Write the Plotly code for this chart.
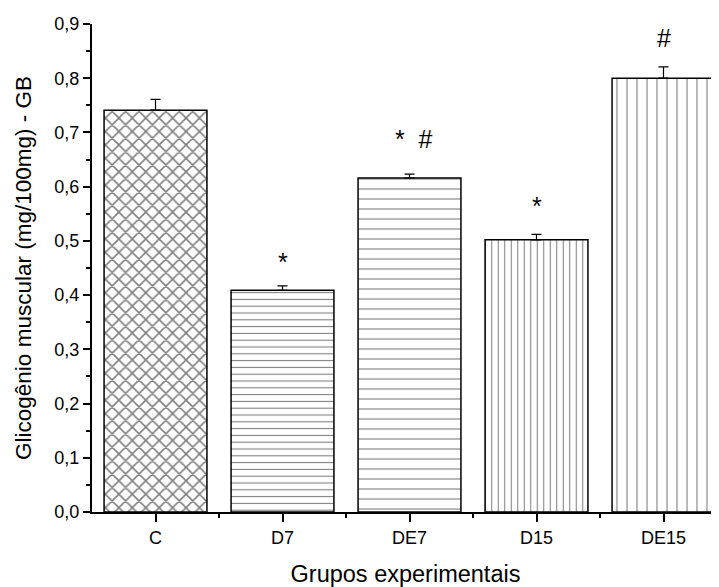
import plotly.graph_objects as go

categories = ["C", "D7", "DE7", "D15", "DE15"]
values = [0.741, 0.409, 0.616, 0.502, 0.800]
errors = [0.020, 0.008, 0.007, 0.010, 0.021]
marks = ["", "*", "*&nbsp;&nbsp;#", "*", "#"]
mark_levels = [None, 0.461, 0.688, 0.564, 0.874]
mark_shift = [0, 0, 4.5, 0, 0]
y_ticks = [0.0, 0.1, 0.2, 0.3, 0.4, 0.5, 0.6, 0.7, 0.8, 0.9]

shapes = ["x", "-", "-", "|", "|"]
sizes = [9.5, 6.8, 10, 6.5, 10]
solid = [0.3, 0.16, 0.11, 0.16, 0.11]

xpos = list(range(len(categories)))

fig = go.Figure()
for i, cat in enumerate(categories):
    fig.add_trace(go.Bar(
        x=[xpos[i]], y=[values[i]], width=0.81,
        marker=dict(color="white", line=dict(color="black", width=1.5),
                    pattern=dict(shape=shapes[i], size=sizes[i], solidity=solid[i],
                                 fgcolor="black", bgcolor="white", fillmode="overlay")),
        error_y=dict(type="data", array=[errors[i]], arrayminus=[0], symmetric=False,
                     color="black", thickness=1.2, width=5),
        showlegend=False, name=cat,
    ))

for i, m in enumerate(marks):
    if m:
        fig.add_annotation(x=xpos[i], y=mark_levels[i], text=m, showarrow=False,
                           xshift=mark_shift[i],
                           font=dict(size=25, color="black", family="Liberation Sans, Arial"))

fig.update_layout(
    width=711, height=579,
    margin=dict(l=84, r=0, t=16, b=75),
    paper_bgcolor="white", plot_bgcolor="white",
    separators=",.",
    font=dict(family="Liberation Sans, Arial", color="black"),
    bargap=0.19,
)
fig.update_xaxes(
    range=[-0.5, 4.437], tickmode="array", tickvals=xpos, ticktext=categories,
    showline=True, linecolor="black", linewidth=2, showgrid=False, zeroline=False,
    ticks="outside", ticklen=8, tickwidth=1.5, tickcolor="black",
    tickfont=dict(size=18),
    minor=dict(tickmode="array", tickvals=[x + 0.5 for x in xpos], ticks="outside", ticklen=4,
               tickwidth=1.5, tickcolor="black", showgrid=False),
    title=dict(text="Grupos experimentais", font=dict(size=23.5), standoff=22),
)
fig.update_yaxes(
    range=[0, 0.9], tickmode="array", tickvals=y_ticks, tickformat=".1f",
    showline=True, linecolor="black", linewidth=2, showgrid=False, zeroline=False,
    ticks="outside", ticklen=7, tickwidth=1.5, tickcolor="black",
    tickfont=dict(size=18),
    minor=dict(dtick=0.05, ticks="outside", ticklen=4, tickwidth=1.5, tickcolor="black", showgrid=False),
    title=dict(text="Glicogênio muscular (mg/100mg) - GB", font=dict(size=22.5), standoff=16),
)
fig.write_html("out.html")
